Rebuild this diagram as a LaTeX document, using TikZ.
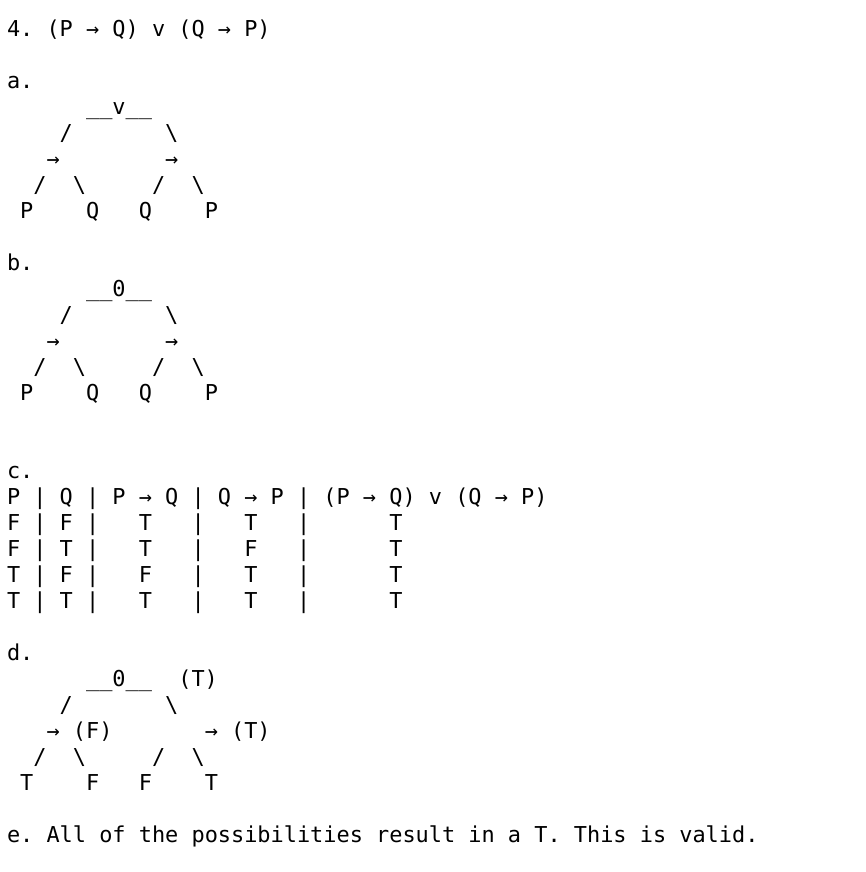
\documentclass[tikz,border=0pt]{standalone}
\usepackage{fontspec}
\usetikzlibrary{positioning}
\newfontfamily\codefont{DejaVu Sans Mono}
\tikzstyle{ascii} = [anchor=base west, inner sep=0pt, outer sep=0pt, font=\codefont\fontsize{10.95}{13}\selectfont]
\newcommand\bs{\textbackslash}
\newcommand\us{\_\_}

\begin{document}
\frenchspacing
\begin{tikzpicture}[x=6.59pt, y=-13pt]
% page frame
\fill[white] (-3.5pt,18.25pt) rectangle (429.5pt,-417.75pt);
\useasboundingbox (-3.5pt,18.25pt) rectangle (429.5pt,-417.75pt);

% Heading
\node (title) [ascii] at (0,0) {4. (P → Q) v (Q → P)};

% a. the tree
\node (parta) [ascii] at (0,2) {a.};
\node (aroot) [ascii] at (6,3) {\us v\us};
\node (aedge1) [ascii] at (4,4) {/~~~~~~~\bs};
\node (aarrow) [ascii] at (3,5) {→~~~~~~~~→};
\node (aedge2) [ascii] at (2,6) {/~~\bs~~~~~/~~\bs};
\node (aleaf) [ascii] at (1,7) {P~~~~Q~~~Q~~~~P};

% b. the tree again
\node (partb) [ascii] at (0,9) {b.};
\node (broot) [ascii] at (6,10) {\us 0\us};
\node (bedge1) [ascii] at (4,11) {/~~~~~~~\bs};
\node (barrow) [ascii] at (3,12) {→~~~~~~~~→};
\node (bedge2) [ascii] at (2,13) {/~~\bs~~~~~/~~\bs};
\node (bleaf) [ascii] at (1,14) {P~~~~Q~~~Q~~~~P};

% c. truth table
\node (partc) [ascii] at (0,17) {c.};
\node (thead) [ascii] at (0,18) {P | Q | P → Q | Q → P | (P → Q) v (Q → P)};
\node (trow1) [ascii] at (0,19) {F | F |~~~T~~~|~~~T~~~|~~~~~~T};
\node (trow2) [ascii] at (0,20) {F | T |~~~T~~~|~~~F~~~|~~~~~~T};
\node (trow3) [ascii] at (0,21) {T | F |~~~F~~~|~~~T~~~|~~~~~~T};
\node (trow4) [ascii] at (0,22) {T | T |~~~T~~~|~~~T~~~|~~~~~~T};

% d. tree with values
\node (partd) [ascii] at (0,24) {d.};
\node (droot) [ascii] at (6,25) {\us 0\us~~(T)};
\node (dedge1) [ascii] at (4,26) {/~~~~~~~\bs};
\node (darrow) [ascii] at (3,27) {→~(F)~~~~~~~→~(T)};
\node (dedge2) [ascii] at (2,28) {/~~\bs~~~~~/~~\bs};
\node (dleaf) [ascii] at (1,29) {T~~~~F~~~F~~~~T};

% e. conclusion
\node (parte) [ascii] at (0,31) {e. All of the possibilities result in a T. This is valid.};

\end{tikzpicture}
\end{document}
